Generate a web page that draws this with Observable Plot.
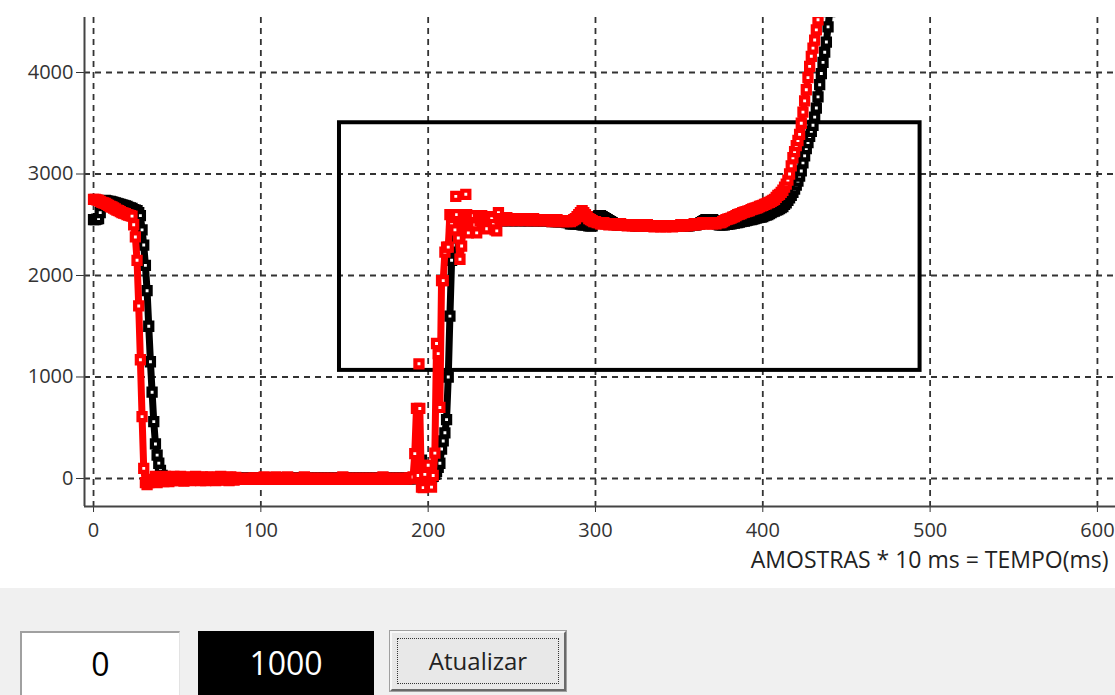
<!DOCTYPE html>
<html><head><meta charset="utf-8">
<script src="https://cdn.jsdelivr.net/npm/d3@7"></script>
<script src="https://cdn.jsdelivr.net/npm/@observablehq/plot@0.6"></script>
<style>
html,body{margin:0;padding:0;background:#f0f0f0;width:1115px;height:695px;overflow:hidden;font-family:"Open Sans",sans-serif}
#chart{position:absolute;left:0;top:0;width:1115px;height:588px;background:#fff}
#chart svg{display:block}
.box{position:absolute;top:631px;height:64px;box-sizing:border-box;text-align:center}
#inicio{left:20px;width:160px;background:#fff;border-top:2px solid #a0a0a0;border-left:2px solid #a0a0a0;border-right:1px solid #e3e3e3;font-size:32px;line-height:62px;color:#000}
#fim{left:198px;width:176px;background:#000;color:#fff;font-size:32px;line-height:64px}
#btn{left:390px;width:176px;height:60px;background:#e8e8e8;border:2px solid;border-color:#f8f8f8 #696969 #696969 #f8f8f8;outline:1px solid #a0a0a0;font-size:24px;line-height:56px;color:#222}
#btn span{position:absolute;left:5px;top:5px;right:5px;bottom:5px;border:1px dotted #333}
</style></head><body>
<div id="chart"></div>
<div class="box" id="inicio"></div>
<div class="box" id="fim"></div>
<div class="box" id="btn"><span></span><b style="font-weight:normal;position:relative"></b></div>
<script>
// ---- axis ticks ----
const xTicks = [0, 100, 200, 300, 400, 500, 600];
const yTicks = [0, 1000, 2000, 3000, 4000];
const xDomain = [-5.4, 610.8];
const yDomain = [-276, 4542];
const xLabel = "AMOSTRAS * 10 ms = TEMPO(ms)";

// ---- highlighted box ----
const boxX = [147, 494];
const boxY = [1065, 3505];

// ---- black series (one value per sample, sample index = x) ----
const blackValues = [
2550,2550,2555,2560,2620,2700,2735,2740,2735,2730,
2730,2725,2720,2715,2710,2705,2700,2695,2690,2685,
2680,2670,2665,2660,2650,2645,2640,2620,2590,2450,
2300,2100,1850,1500,1150,850,560,340,230,150,
80,30,5,0,0,0,0,0,0,0,
0,0,0,0,0,0,0,0,0,0,
0,0,0,0,0,0,0,0,0,0,
0,0,0,0,0,0,0,0,0,0,
0,0,0,0,0,0,0,0,0,0,
0,0,0,0,0,0,0,0,0,0,
0,0,0,0,0,0,0,0,0,0,
0,0,0,0,0,0,0,0,0,0,
0,0,0,0,0,0,0,0,0,0,
0,0,0,0,0,0,0,0,0,0,
0,0,0,0,0,0,0,0,0,0,
0,0,0,0,0,0,0,0,0,0,
0,0,0,0,0,0,0,0,0,0,
0,0,0,0,0,0,0,0,0,0,
0,0,0,0,0,0,0,0,0,0,
0,0,0,10,30,120,180,120,60,30,
10,0,10,20,40,70,110,150,290,370,
450,580,1000,1600,2150,2300,2380,2430,2460,2470,
2480,2490,2490,2500,2500,2510,2500,2500,2510,2530,
2530,2540,2540,2540,2550,2540,2540,2550,2540,2540,
2540,2540,2550,2540,2540,2550,2540,2540,2550,2540,
2540,2550,2540,2540,2550,2540,2540,2550,2540,2540,
2540,2540,2550,2540,2540,2540,2540,2540,2540,2540,
2540,2540,2540,2540,2530,2540,2530,2530,2530,2530,
2530,2530,2530,2520,2520,2510,2510,2510,2510,2510,
2510,2510,2500,2500,2500,2500,2490,2490,2490,2520,
2560,2580,2590,2590,2580,2570,2560,2550,2540,2530,
2520,2510,2510,2500,2500,2500,2500,2500,2500,2500,
2500,2500,2500,2500,2490,2490,2490,2490,2490,2490,
2490,2490,2490,2490,2490,2490,2490,2490,2490,2490,
2490,2490,2490,2490,2490,2490,2490,2490,2490,2490,
2490,2490,2490,2490,2490,2490,2490,2500,2500,2500,
2500,2510,2510,2520,2530,2540,2550,2550,2550,2550,
2550,2540,2530,2510,2500,2500,2500,2500,2505,2505,
2510,2510,2515,2515,2520,2520,2525,2530,2535,2535,
2540,2545,2550,2550,2555,2560,2565,2570,2575,2575,
2580,2590,2595,2600,2610,2620,2630,2635,2645,2650,
2660,2670,2680,2700,2715,2740,2765,2790,2820,2850,
2890,2930,2980,3030,3110,3180,3250,3310,3370,3420,
3480,3560,3650,3760,3880,3990,4100,4200,4300,4450,
4600
];

// ---- red series (one value per sample, sample index = x) ----
const redValues = [
2750,2750,2745,2740,2730,2720,2715,2710,2700,2690,
2680,2675,2665,2655,2645,2640,2630,2620,2615,2610,
2600,2595,2590,2585,2500,2380,2150,1700,1170,610,
100,-40,-60,-40,-20,-10,-30,20,-40,10,
-20,10,-30,20,-10,-30,10,-20,20,-10,
10,-20,20,-10,-25,15,-15,10,-20,5,
-10,20,-15,10,-20,15,-5,-20,10,-10,
15,-15,5,-20,10,-10,20,-15,5,-10,
10,-20,15,-5,-15,10,-5,-5,0,-5,
0,-5,-5,0,-5,0,5,-5,0,-5,
0,-5,15,0,-5,0,-5,0,-5,15,
0,-5,0,-5,0,-5,15,-5,0,-5,
0,-5,0,-5,0,-5,15,0,-5,0,
-5,0,-5,0,-5,0,-5,0,-5,0,
-5,0,-5,0,-5,0,-5,0,-5,15,
0,-5,0,-5,0,-5,0,-5,0,-5,
0,-5,0,-5,0,-5,0,-5,0,-5,
0,-5,0,15,0,-5,0,-5,0,-5,
0,-5,0,-5,0,-5,0,-5,0,5,
0,15,245,690,30,690,-85,-90,40,130,
130,-70,-85,30,250,1330,1230,700,1950,1950,
2230,2280,2280,2600,2500,2580,2450,2600,2370,2160,
2290,2560,2600,2600,2420,2580,2560,2590,2500,2420,
2570,2540,2590,2500,2560,2460,2580,2540,2560,2500,
2450,2440,2620,2560,2540,2560,2550,2570,2540,2560,
2550,2560,2550,2540,2560,2550,2550,2560,2540,2550,
2550,2540,2550,2560,2540,2550,2540,2550,2540,2550,
2540,2550,2540,2550,2530,2540,2540,2550,2530,2540,
2540,2530,2540,2530,2540,2530,2540,2550,2560,2580,
2600,2620,2640,2620,2600,2580,2560,2550,2540,2530,
2530,2520,2520,2510,2510,2520,2510,2510,2500,2510,
2510,2500,2510,2500,2500,2510,2500,2500,2500,2490,
2500,2500,2490,2500,2490,2490,2500,2490,2490,2490,
2490,2500,2490,2490,2490,2480,2490,2490,2490,2480,
2490,2490,2480,2490,2490,2490,2480,2490,2490,2490,
2490,2500,2490,2490,2500,2490,2500,2500,2500,2510,
2500,2510,2510,2510,2520,2510,2520,2510,2520,2520,
2510,2520,2510,2520,2520,2520,2530,2540,2550,2555,
2560,2565,2575,2580,2590,2600,2605,2610,2620,2625,
2630,2635,2640,2650,2655,2660,2665,2670,2680,2685,
2690,2700,2705,2715,2720,2730,2740,2750,2770,2790,
2800,2820,2840,2870,2900,2940,3000,3080,3160,3220,
3280,3330,3390,3500,3610,3720,3830,3950,4060,4160,
4240,4320,4420,4520,4620
];

// isolated red markers (not joined to the trace)
const redIsolatedX = [194.5, 216.5, 222.5];
const redIsolatedY = [1130, 2780, 2800];

// ---- bottom controls ----
const startValue = "0";
const endValue = "1000";
const buttonText = "Atualizar";

const black = blackValues.map((y, x) => ({x, y}));
const red = redValues.map((y, x) => ({x, y}));
const redIso = redIsolatedX.map((x, i) => ({x, y: redIsolatedY[i]}));
const box = [{x1: boxX[0], x2: boxX[1], y1: boxY[0], y2: boxY[1]}];

const gridStyle = {stroke: "#333", strokeWidth: 1.8, strokeDasharray: "6,5"};
const markR = 4.0;
const markSW = 4.2;
const lineW = 7;

const chart = Plot.plot({
  width: 1115,
  height: 588,
  marginLeft: 84,
  marginTop: 17,
  marginRight: 0,
  marginBottom: 82,
  style: {fontFamily: "'Open Sans', sans-serif", fontSize: "20px", background: "#fff", color: "#333"},
  x: {domain: xDomain},
  y: {domain: yDomain},
  marks: [
    Plot.ruleX(xTicks, gridStyle),
    Plot.ruleY(yTicks, gridStyle),
    Plot.axisX(xTicks, {tickSize: 6, tickPadding: 10, fontSize: 20, stroke: "#333", fill: "#333", tickFormat: d => String(d), label: null}),
    Plot.axisY(yTicks, {tickSize: 8, tickPadding: 3, fontSize: 20, stroke: "#333", fill: "#333", tickFormat: d => String(d), label: null}),
    Plot.ruleX([xDomain[0]], {stroke: "#444", strokeWidth: 2}),
    Plot.ruleY([yDomain[0]], {stroke: "#444", strokeWidth: 2}),
    Plot.rect(box, {x1: "x1", x2: "x2", y1: "y1", y2: "y2", fill: "none", stroke: "#000", strokeWidth: 4}),
    Plot.line(black, {x: "x", y: "y", stroke: "#000", strokeWidth: lineW, clip: true}),
    Plot.dot(black, {x: "x", y: "y", symbol: "square", r: markR, stroke: "#000", strokeWidth: markSW, fill: "#fff", clip: true}),
    Plot.line(red, {x: "x", y: "y", stroke: "#ff0000", strokeWidth: lineW, clip: true}),
    Plot.dot(red, {x: "x", y: "y", symbol: "square", r: markR, stroke: "#ff0000", strokeWidth: markSW, fill: "#fff", clip: true}),
    Plot.dot(redIso, {x: "x", y: "y", symbol: "square", r: markR, stroke: "#ff0000", strokeWidth: markSW, fill: "#fff", clip: true}),
    Plot.text([xLabel], {text: d => d, frameAnchor: "bottom-right", dx: -7, dy: 61, textAnchor: "end", fontSize: 23, fill: "#222"})
  ]
});
document.getElementById("chart").appendChild(chart);
document.getElementById("inicio").textContent = startValue;
document.getElementById("fim").textContent = endValue;
document.querySelector("#btn b").textContent = buttonText;
</script>
</body></html>
